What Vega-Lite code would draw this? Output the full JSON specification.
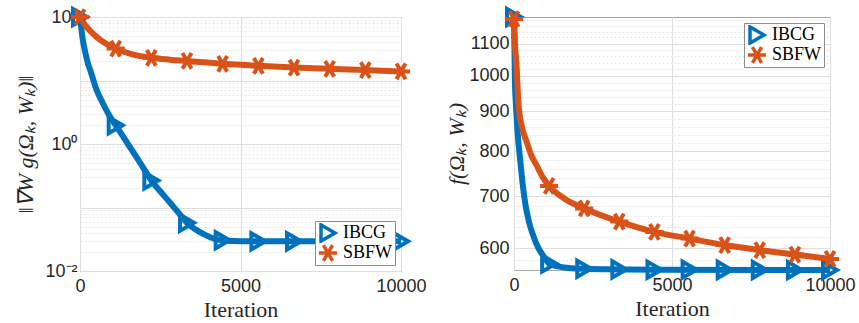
{
  "$schema": "https://vega.github.io/schema/vega-lite/v6.json",
  "padding": {"left": 14, "top": 0, "right": 0, "bottom": 0},
  "spacing": 18,
  "config": {
    "view": {"stroke": "#a6a6a6", "strokeWidth": 1},
    "axis": {
      "labelFont": "Liberation Sans", "labelFontSize": 18, "labelColor": "#262626",
      "titleFont": "Liberation Serif", "titleFontSize": 22, "titleFontWeight": "normal", "titleColor": "#262626",
      "domain": false, "ticks": false, "labelFlush": false
    },
    "legend": {
      "labelFont": "Liberation Serif", "labelFontSize": 18, "labelColor": "#000000",
      "strokeColor": "#8c8c8c", "fillColor": "#ffffff", "padding": 2, "rowPadding": 0, "clipHeight": 20,
      "symbolStrokeWidth": 3.5, "symbolSize": 240, "offset": 6, "title": null, "labelOffset": 4
    }
  },
  "datasets": {
    "grad": [
      {"method":"IBCG","iter":0,"value":100},{"method":"IBCG","iter":30,"value":75},{"method":"IBCG","iter":60,"value":55},{"method":"IBCG","iter":100,"value":40},{"method":"IBCG","iter":150,"value":30},{"method":"IBCG","iter":230,"value":20},{"method":"IBCG","iter":350,"value":13},{"method":"IBCG","iter":500,"value":7.5},{"method":"IBCG","iter":700,"value":4.5},{"method":"IBCG","iter":900,"value":2.9},{"method":"IBCG","iter":1111,"value":1.98},{"method":"IBCG","iter":1400,"value":1.18},{"method":"IBCG","iter":1700,"value":0.69},{"method":"IBCG","iter":2000,"value":0.4},{"method":"IBCG","iter":2222,"value":0.267},{"method":"IBCG","iter":2500,"value":0.18},{"method":"IBCG","iter":2800,"value":0.12},{"method":"IBCG","iter":3100,"value":0.079},{"method":"IBCG","iter":3333,"value":0.0575},{"method":"IBCG","iter":3600,"value":0.045},{"method":"IBCG","iter":3900,"value":0.037},{"method":"IBCG","iter":4200,"value":0.032},{"method":"IBCG","iter":4444,"value":0.0305},{"method":"IBCG","iter":4800,"value":0.0296},{"method":"IBCG","iter":5200,"value":0.0293},{"method":"IBCG","iter":10000,"value":0.0293},
      {"method":"SBFW","iter":0,"value":100},{"method":"SBFW","iter":50,"value":90},{"method":"SBFW","iter":120,"value":80},{"method":"SBFW","iter":250,"value":66},{"method":"SBFW","iter":400,"value":55},{"method":"SBFW","iter":600,"value":45},{"method":"SBFW","iter":850,"value":37},{"method":"SBFW","iter":1111,"value":31.8},{"method":"SBFW","iter":1600,"value":26},{"method":"SBFW","iter":2222,"value":22.8},{"method":"SBFW","iter":2800,"value":21.3},{"method":"SBFW","iter":3333,"value":20.3},{"method":"SBFW","iter":4444,"value":18.3},{"method":"SBFW","iter":5556,"value":17},{"method":"SBFW","iter":6667,"value":16},{"method":"SBFW","iter":7778,"value":15.3},{"method":"SBFW","iter":8889,"value":14.6},{"method":"SBFW","iter":10000,"value":13.9}
    ],
    "gradMarks": [
      {"method":"IBCG","iter":0,"value":100},{"method":"IBCG","iter":1111,"value":1.98},{"method":"IBCG","iter":2222,"value":0.267},{"method":"IBCG","iter":3333,"value":0.0575},{"method":"IBCG","iter":4444,"value":0.0305},{"method":"IBCG","iter":5556,"value":0.0293},{"method":"IBCG","iter":6667,"value":0.0293},{"method":"IBCG","iter":7778,"value":0.0293},{"method":"IBCG","iter":8889,"value":0.0293},{"method":"IBCG","iter":10000,"value":0.0293},
      {"method":"SBFW","iter":0,"value":100},{"method":"SBFW","iter":1111,"value":31.8},{"method":"SBFW","iter":2222,"value":22.8},{"method":"SBFW","iter":3333,"value":20.3},{"method":"SBFW","iter":4444,"value":18.3},{"method":"SBFW","iter":5556,"value":17},{"method":"SBFW","iter":6667,"value":16},{"method":"SBFW","iter":7778,"value":15.3},{"method":"SBFW","iter":8889,"value":14.6},{"method":"SBFW","iter":10000,"value":13.9}
    ],
    "obj": [
      {"method":"IBCG","iter":0,"value":1190},{"method":"IBCG","iter":15,"value":1080},{"method":"IBCG","iter":30,"value":980},{"method":"IBCG","iter":60,"value":920},{"method":"IBCG","iter":85,"value":882},{"method":"IBCG","iter":130,"value":830},{"method":"IBCG","iter":190,"value":783},{"method":"IBCG","iter":260,"value":735},{"method":"IBCG","iter":350,"value":688},{"method":"IBCG","iter":470,"value":650},{"method":"IBCG","iter":610,"value":623},{"method":"IBCG","iter":760,"value":602},{"method":"IBCG","iter":930,"value":587},{"method":"IBCG","iter":1111,"value":574},{"method":"IBCG","iter":1400,"value":569},{"method":"IBCG","iter":1800,"value":566},{"method":"IBCG","iter":2222,"value":565},{"method":"IBCG","iter":3333,"value":564},{"method":"IBCG","iter":4444,"value":563.5},{"method":"IBCG","iter":10000,"value":563},
      {"method":"SBFW","iter":0,"value":1183},{"method":"SBFW","iter":30,"value":1100},{"method":"SBFW","iter":85,"value":1024},{"method":"SBFW","iter":136,"value":927},{"method":"SBFW","iter":250,"value":860},{"method":"SBFW","iter":400,"value":823},{"method":"SBFW","iter":550,"value":790},{"method":"SBFW","iter":716,"value":767},{"method":"SBFW","iter":900,"value":742},{"method":"SBFW","iter":1111,"value":722},{"method":"SBFW","iter":1600,"value":695},{"method":"SBFW","iter":2222,"value":675.5},{"method":"SBFW","iter":3333,"value":649.7},{"method":"SBFW","iter":4444,"value":630.2},{"method":"SBFW","iter":5556,"value":617.8},{"method":"SBFW","iter":6667,"value":606.1},{"method":"SBFW","iter":7778,"value":597.1},{"method":"SBFW","iter":8889,"value":589.3},{"method":"SBFW","iter":10000,"value":581.8}
    ],
    "objMarks": [
      {"method":"IBCG","iter":0,"value":1190},{"method":"IBCG","iter":1111,"value":574},{"method":"IBCG","iter":2222,"value":565},{"method":"IBCG","iter":3333,"value":564},{"method":"IBCG","iter":4444,"value":563.5},{"method":"IBCG","iter":5556,"value":563.3},{"method":"IBCG","iter":6667,"value":563.2},{"method":"IBCG","iter":7778,"value":563.1},{"method":"IBCG","iter":8889,"value":563},{"method":"IBCG","iter":10000,"value":563},
      {"method":"SBFW","iter":0,"value":1183},{"method":"SBFW","iter":1111,"value":722},{"method":"SBFW","iter":2222,"value":675.5},{"method":"SBFW","iter":3333,"value":649.7},{"method":"SBFW","iter":4444,"value":630.2},{"method":"SBFW","iter":5556,"value":617.8},{"method":"SBFW","iter":6667,"value":606.1},{"method":"SBFW","iter":7778,"value":597.1},{"method":"SBFW","iter":8889,"value":589.3},{"method":"SBFW","iter":10000,"value":581.8}
    ]
  },
  "resolve": {
    "scale": {"color": "independent", "shape": "independent", "size": "independent", "x": "independent", "y": "independent"},
    "legend": {"color": "independent", "shape": "independent", "size": "independent"}
  },
  "hconcat": [
    {
      "width": 321, "height": 254,
      "resolve": {"axis": {"x": "independent"}},
      "layer": [
        {
          "data": {"name": "grad"},
          "mark": {"type": "line", "strokeWidth": 6, "interpolate": "monotone"},
          "encoding": {
            "x": {"field": "iter", "type": "quantitative", "scale": {"domain": [0, 10000], "nice": false},
              "axis": {"orient": "bottom", "title": "Iteration", "values": [0, 5000, 10000], "format": "d", "labelPadding": 6, "titlePadding": 4, "gridColor": "#dedede"}},
            "y": {"field": "value", "type": "quantitative", "scale": {"type": "log", "domain": [0.01, 100], "nice": false},
              "axis": {"title": "‖∇W g(Ωₖ, Wₖ)‖", "titleFontStyle": "italic", "titleFontSize": 22, "labelOverlap": "greedy",
                "values": [0.01,0.02,0.03,0.04,0.05,0.06,0.07,0.08,0.09,0.1,0.2,0.3,0.4,0.5,0.6,0.7,0.8,0.9,1,2,3,4,5,6,7,8,9,10,20,30,40,50,60,70,80,90,100],
                "labelExpr": "datum.value == 100 ? '10²' : datum.value == 1 ? '10⁰' : datum.value == 0.01 ? '10⁻²' : ''", "labelPadding": 3, "titlePadding": 7,
                "gridColor": {"condition": {"test": "datum.value == 0.01 || datum.value == 0.1 || datum.value == 1 || datum.value == 10 || datum.value == 100", "value": "#dedede"}, "value": "#e6e6e6"},
                "gridDash": {"condition": {"test": "datum.value == 0.01 || datum.value == 0.1 || datum.value == 1 || datum.value == 10 || datum.value == 100", "value": []}, "value": [2, 2]}}},
            "color": {"field": "method", "type": "nominal", "scale": {"domain": ["IBCG", "SBFW"], "range": ["#0072BD", "#D95319"]}, "legend": {"orient": "bottom-right", "title": null}}
          }
        },
        {
          "data": {"name": "gradMarks"},
          "mark": {"type": "point", "filled": false, "strokeWidth": 4, "opacity": 1},
          "encoding": {
            "x": {"field": "iter", "type": "quantitative",
              "axis": {"orient": "bottom", "title": null, "labels": false, "values": [1000,2000,3000,4000,6000,7000,8000,9000], "gridColor": "#e6e6e6", "gridDash": [2, 2]}},
            "y": {"field": "value", "type": "quantitative"},
            "color": {"field": "method", "type": "nominal", "legend": {"orient": "bottom-right", "title": null}},
            "shape": {"field": "method", "type": "nominal", "scale": {"domain": ["IBCG", "SBFW"], "range": ["triangle-right", "M-1,0L1,0M-0.5,-0.866L0.5,0.866M0.5,-0.866L-0.5,0.866"]}, "legend": {"orient": "bottom-right", "title": null}},
            "size": {"field": "method", "type": "nominal", "scale": {"domain": ["IBCG", "SBFW"], "range": [260, 330]}, "legend": null}
          }
        }
      ]
    },
    {
      "width": 316, "height": 253,
      "resolve": {"axis": {"x": "independent"}},
      "layer": [
        {
          "data": {"name": "obj"},
          "mark": {"type": "line", "strokeWidth": 6, "interpolate": "monotone"},
          "encoding": {
            "x": {"field": "iter", "type": "quantitative", "scale": {"domain": [0, 10000], "nice": false},
              "axis": {"orient": "bottom", "title": "Iteration", "values": [0, 5000, 10000], "format": "d", "labelPadding": 6, "titlePadding": 4, "gridColor": "#dedede"}},
            "y": {"field": "value", "type": "quantitative", "scale": {"type": "log", "domain": [563, 1190], "nice": false, "zero": false},
              "axis": {"title": "f(Ωₖ, Wₖ)", "titleFontStyle": "italic", "titleFontSize": 22, "labelOverlap": "greedy",
                "values": [580,600,620,640,660,680,700,720,740,760,780,800,820,840,860,880,900,920,940,960,980,1000,1020,1040,1060,1080,1100,1120,1140,1160,1180],
                "labelExpr": "datum.value % 100 === 0 ? '' + datum.value : ''", "labelPadding": 5, "titlePadding": 0,
                "gridColor": {"condition": {"test": "datum.value % 100 === 0", "value": "#dedede"}, "value": "#e6e6e6"},
                "gridDash": {"condition": {"test": "datum.value % 100 === 0", "value": []}, "value": [2, 2]}}},
            "color": {"field": "method", "type": "nominal", "scale": {"domain": ["IBCG", "SBFW"], "range": ["#0072BD", "#D95319"]}, "legend": {"orient": "top-right", "title": null}}
          }
        },
        {
          "data": {"name": "objMarks"},
          "mark": {"type": "point", "filled": false, "strokeWidth": 4, "opacity": 1},
          "encoding": {
            "x": {"field": "iter", "type": "quantitative",
              "axis": {"orient": "bottom", "title": null, "labels": false, "values": [1000,2000,3000,4000,6000,7000,8000,9000], "gridColor": "#e6e6e6", "gridDash": [2, 2]}},
            "y": {"field": "value", "type": "quantitative"},
            "color": {"field": "method", "type": "nominal", "legend": {"orient": "top-right", "title": null}},
            "shape": {"field": "method", "type": "nominal", "scale": {"domain": ["IBCG", "SBFW"], "range": ["triangle-right", "M-1,0L1,0M-0.5,-0.866L0.5,0.866M0.5,-0.866L-0.5,0.866"]}, "legend": {"orient": "top-right", "title": null}},
            "size": {"field": "method", "type": "nominal", "scale": {"domain": ["IBCG", "SBFW"], "range": [260, 330]}, "legend": null}
          }
        }
      ]
    }
  ]
}
